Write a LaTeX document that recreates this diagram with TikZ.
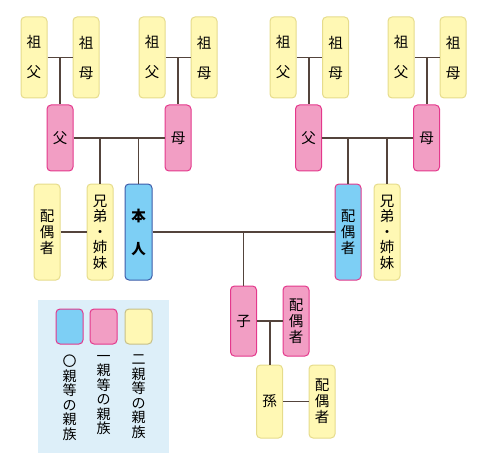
\documentclass[tikz,border=0pt]{standalone}
\usepackage{fontspec}
\setmainfont{Noto Sans CJK JP}
\definecolor{yfill}{HTML}{FFF8B4}
\definecolor{ydraw}{HTML}{E6DC8C}
\definecolor{pfill}{HTML}{F29EC4}
\definecolor{pdraw}{HTML}{E4388C}
\definecolor{bfill}{HTML}{7DCFF5}
\definecolor{bdraw}{HTML}{3D5BA9}
\definecolor{lgbg}{HTML}{DDEFF9}
\definecolor{lnc}{HTML}{54443C}
\begin{document}
\begin{tikzpicture}[x=1pt,y=-1pt,
  card/.style={rectangle, rounded corners=4pt, line width=1pt, minimum width=26pt, inner sep=0pt, align=center},
  yb/.style={card, fill=yfill, draw=ydraw},
  pb/.style={card, fill=pfill, draw=pdraw},
  bb/.style={card, fill=bfill, draw=bdraw},
  sb/.style={card, fill=bfill, draw=pdraw},
  ls/.style={font=\fontsize{14.5}{#1}\selectfont},
  conn/.style={draw=lnc, line width=1.6pt}]
\useasboundingbox (0,0) rectangle (482,468);
% grandparents
\node[yb, minimum height=81pt, ls=30] (gf1) at (34,57.5) {祖\\父};
\node[yb, minimum height=81pt, ls=30] (gm1) at (86,57.5) {祖\\母};
\node[yb, minimum height=81pt, ls=30] (gf2) at (152,57.5) {祖\\父};
\node[yb, minimum height=81pt, ls=30] (gm2) at (204,57.5) {祖\\母};
\node[yb, minimum height=81pt, ls=30] (gf3) at (283,57.5) {祖\\父};
\node[yb, minimum height=81pt, ls=30] (gm3) at (335.5,57.5) {祖\\母};
\node[yb, minimum height=81pt, ls=30] (gf4) at (401,57.5) {祖\\父};
\node[yb, minimum height=81pt, ls=30] (gm4) at (453,57.5) {祖\\母};
% parents
\node[pb, minimum height=66pt, ls=16] (fa1) at (60,138) {父};
\node[pb, minimum height=66pt, ls=16] (mo1) at (178,138) {母};
\node[pb, minimum height=66pt, ls=16] (fa2) at (308.5,138) {父};
\node[pb, minimum height=66pt, ls=16] (mo2) at (426.5,138) {母};
% generation of self
\node[yb, minimum height=96pt, ls=16] (sp1) at (47,232) {配\\偶\\者};
\node[yb, minimum height=96pt, ls=15.5] (sib1) at (100,232) {兄\\弟\\・\\姉\\妹};
\node[bb, minimum width=27pt, minimum height=96pt, font=\fontsize{14.5}{33}\selectfont\bfseries] (self) at (138.5,232) {本\\人};
\node[sb, minimum height=96pt, ls=16] (sp2) at (348,232) {配\\偶\\者};
\node[yb, minimum height=96pt, ls=15.5] (sib2) at (387,232) {兄\\弟\\・\\姉\\妹};
% children
\node[pb, minimum height=70pt, ls=16] (child) at (243.5,321) {子};
\node[pb, minimum height=70pt, ls=16] (csp) at (296,321) {配\\偶\\者};
\node[yb, minimum height=73pt, ls=16] (grand) at (269.5,401.5) {孫};
\node[yb, minimum height=73pt, ls=16] (gsp) at (322,401.5) {配\\偶\\者};
% connectors
\draw[conn] (gf1) -- (gm1) coordinate[midway] (m1);
\draw[conn] (m1) -- (fa1);
\draw[conn] (gf2) -- (gm2) coordinate[midway] (m2);
\draw[conn] (m2) -- (mo1);
\draw[conn] (gf3) -- (gm3) coordinate[midway] (m3);
\draw[conn] (m3) -- (fa2.north -| m3);
\draw[conn] (gf4) -- (gm4) coordinate[midway] (m4);
\draw[conn] (m4) -- (mo2.north -| m4);
\draw[conn] (fa1) -- (mo1);
\draw[conn] (sib1.north) -- (sib1.north |- fa1.east);
\draw[conn] (self.north) -- (self.north |- fa1.east);
\draw[conn] (fa2) -- (mo2);
\draw[conn] (sp2.north) -- (sp2.north |- fa2.east);
\draw[conn] (sib2.north) -- (sib2.north |- fa2.east);
\draw[conn] (sp1) -- (sib1);
\draw[conn] (self) -- (sp2);
\draw[conn] (child.north) -- (child.north |- self.east);
\draw[conn] (child) -- (csp) coordinate[midway] (m5);
\draw[conn] (m5) -- (grand.north -| m5);
\draw[conn] (grand) -- (gsp);
% legend
\fill[lgbg] (38,300) rectangle (169,453);
\node[sb, minimum width=27pt, minimum height=35pt] (lg0) at (69.5,326.5) {};
\node[pb, minimum width=27pt, minimum height=35pt] (lg1) at (103.5,326.5) {};
\node[yb, minimum width=27pt, minimum height=35pt, draw=ydraw!70!gray] (lg2) at (138.5,326.5) {};
\node[anchor=north, align=center, inner sep=0pt, font=\fontsize{14}{14.5}\selectfont] (lt0) at (69.5,355) {〇\\親\\等\\の\\親\\族};
\node[anchor=north, align=center, inner sep=0pt, font=\fontsize{14}{14.5}\selectfont] (lt1) at (103.5,355) {一\\親\\等\\の\\親\\族};
\node[anchor=north, align=center, inner sep=0pt, font=\fontsize{14}{14.5}\selectfont] (lt2) at (138.5,355) {二\\親\\等\\の\\親\\族};
\end{tikzpicture}
\end{document}
